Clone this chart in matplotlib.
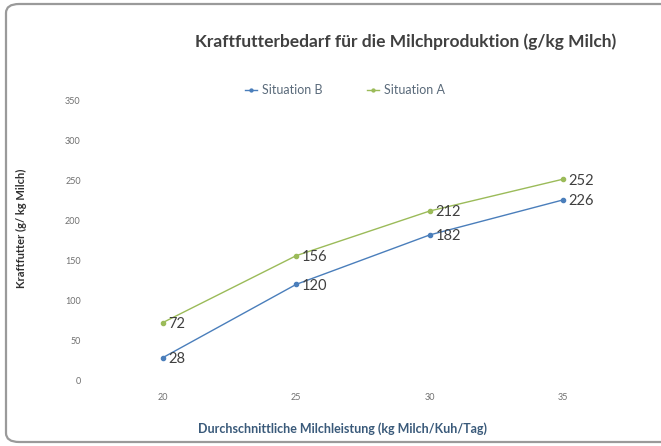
import numpy as np
import matplotlib.pyplot as plt
from matplotlib.patches import FancyBboxPatch

# milk yield (kg milk/cow/day) and concentrate demand (g/kg milk)
leistung = [20, 25, 30, 35]
situation_b = [28, 120, 182, 226]
situation_a = [72, 156, 212, 252]
y_ticks = [0, 50, 100, 150, 200, 250, 300, 350]

plt.rcParams['font.family'] = ['Lato', 'DejaVu Sans']

fig = plt.figure(figsize=(6.61, 4.46), dpi=100)
fig.patch.set_facecolor('white')

# rounded chart frame
frame = FancyBboxPatch((6 / 661, 4 / 446), 700 / 661, 438 / 446,
                       boxstyle='round,pad=0,rounding_size=0.02',
                       transform=fig.transFigure, facecolor='none',
                       edgecolor='#9a9a9a', linewidth=1.6, zorder=-1)
fig.patches.append(frame)

ax = fig.add_axes([96 / 661, (446 - 380) / 446, 534 / 661, 279 / 446])
ax.set_facecolor('none')

x = np.arange(len(leistung))
lineB, = ax.plot(x, situation_b, '-o', color='#4a7ebb', markersize=3, linewidth=1.0)
lineA, = ax.plot(x, situation_a, '-o', color='#9bbb59', markersize=3, linewidth=1.0)

for xi, v in zip(x, situation_b):
    ax.annotate(str(v), (xi, v), xytext=(4, -1), textcoords='offset points',
                va='center', ha='left', fontsize=10.5, color='#404040')
for xi, v in zip(x, situation_a):
    ax.annotate(str(v), (xi, v), xytext=(4, -1), textcoords='offset points',
                va='center', ha='left', fontsize=10.5, color='#404040')

ax.set_xlim(-0.5, len(leistung) - 0.5)
ax.set_ylim(0, 350)
ax.set_xticks(x)
ax.set_xticklabels([str(v) for v in leistung])
ax.set_yticks(y_ticks)
ax.tick_params(length=0, labelsize=6.5, colors='#707070')
ax.tick_params(axis='x', pad=9)
ax.tick_params(axis='y', pad=11)
for s in ax.spines.values():
    s.set_visible(False)

ax.set_xlabel('Durchschnittliche Milchleistung (kg Milch/Kuh/Tag)',
              fontsize=9, color='#3a5a7a', fontweight='bold')
ax.xaxis.set_label_coords((343 - 96) / 534, -0.15)
ax.set_ylabel('Kraftfutter (g/ kg Milch)', fontsize=8, color='#303030',
              fontweight='bold')
ax.yaxis.set_label_coords(-0.13, (380 - 228) / 279)

fig.text(406 / 661, (446 - 42) / 446,
         'Kraftfutterbedarf für die Milchproduktion (g/kg Milch)',
         ha='center', va='center', fontsize=12.5, fontweight='bold',
         color='#404040')

fig.legend([lineB, lineA], ['Situation B', 'Situation A'], loc='center',
           bbox_to_anchor=(345 / 661, (446 - 90) / 446), ncol=2, frameon=False,
           fontsize=9, labelcolor='#5a6a7a', handlelength=1.0,
           handletextpad=0.4, columnspacing=3.5, markerscale=0.7)

fig.savefig('out.png', dpi=100, facecolor='white')
